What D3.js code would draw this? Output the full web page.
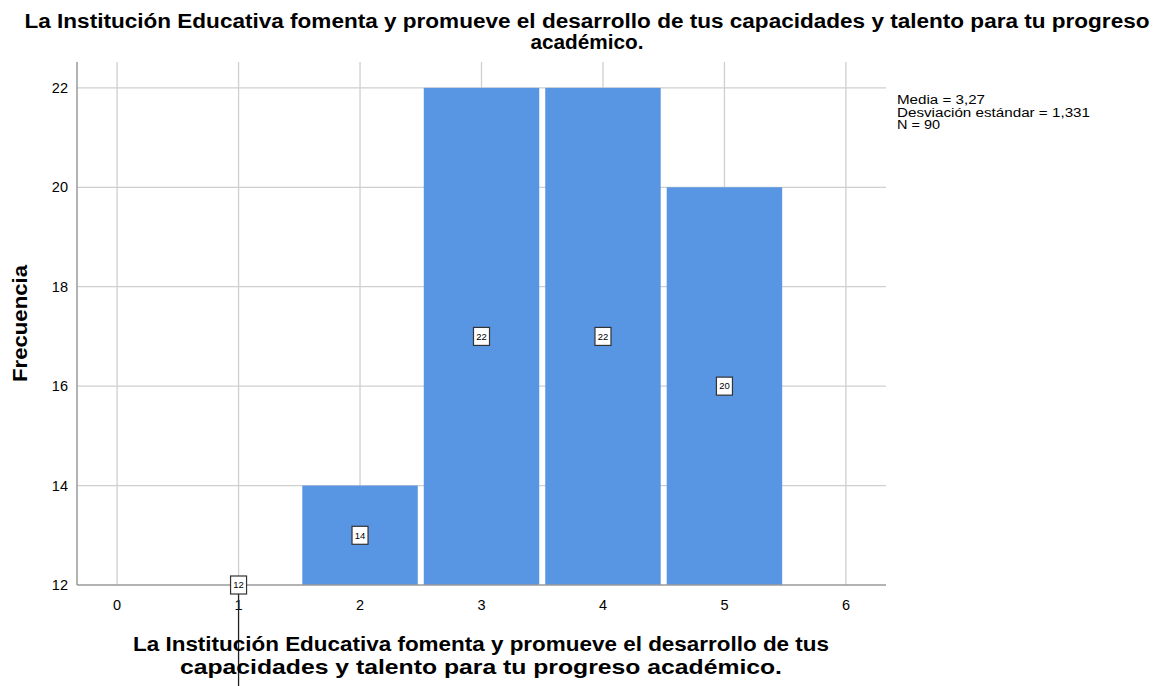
<!DOCTYPE html>
<html lang="es">
<head>
<meta charset="utf-8">
<script src="https://d3js.org/d3.v7.min.js"></script>
<style>
  body { margin: 0; background: #fff; }
  text { font-family: "Liberation Sans", Arial, sans-serif; fill: #000; }
</style>
</head>
<body>
<div id="chart"></div>
<script>
// valores de la escala (1-5) y frecuencias
var categories = [1, 2, 3, 4, 5];
var counts = [12, 14, 22, 22, 20];
var xTicks = [0, 1, 2, 3, 4, 5, 6];
var yTicks = [12, 14, 16, 18, 20, 22];
var titleLines = ["La Institución Educativa fomenta y promueve el desarrollo de tus capacidades y talento para tu progreso", "académico."];
var xTitleLines = ["La Institución Educativa fomenta y promueve el desarrollo de tus", "capacidades y talento para tu progreso académico."];
var statsLines = ["Media = 3,27", "Desviación estándar = 1,331", "N = 90"];

var W = 1160, H = 686;
var margin = {top: 62, right: 274, bottom: 101, left: 77};
var width = W - margin.left - margin.right,
    height = H - margin.top - margin.bottom;

var svg = d3.select("#chart").append("svg")
    .attr("width", W).attr("height", H);

var g = svg.append("g")
    .attr("transform", "translate(" + margin.left + "," + margin.top + ")");

var x = d3.scaleLinear().domain([-0.33, 6.33]).range([0, width]);
var y = d3.scaleLinear().domain([12, 22.52]).range([height, 0]);

// the reference text is a bit wider than the font, so stretch it
function fit(sel, widths) {
    sel.attr("textLength", (d, i) => widths[i]).attr("lengthAdjust", "spacingAndGlyphs");
}

// grid
g.selectAll(".vgrid").data(xTicks).enter().append("line")
    .attr("x1", d => x(d)).attr("x2", d => x(d))
    .attr("y1", 0).attr("y2", height)
    .attr("stroke", "#cfcfcf").attr("stroke-width", 1.3);
g.selectAll(".hgrid").data(yTicks.slice(1)).enter().append("line")
    .attr("x1", 0).attr("x2", width)
    .attr("y1", d => y(d)).attr("y2", d => y(d))
    .attr("stroke", "#cfcfcf").attr("stroke-width", 1.3);

// bars
g.selectAll(".bar").data(categories).enter().append("rect")
    .attr("x", (d) => x(d - 0.5) + 3)
    .attr("width", (d) => x(d + 0.5) - x(d - 0.5) - 6)
    .attr("y", (d, i) => y(counts[i]))
    .attr("height", (d, i) => height - y(counts[i]))
    .attr("fill", "#5895e3");

// axes lines
g.append("line").attr("x1", 0).attr("x2", 0).attr("y1", 0).attr("y2", height)
    .attr("stroke", "#9a9a9a").attr("stroke-width", 1.5);
g.append("line").attr("x1", 0).attr("x2", width).attr("y1", height).attr("y2", height)
    .attr("stroke", "#9a9a9a").attr("stroke-width", 1.5);

// tick labels
g.selectAll(".ylab").data(yTicks).enter().append("text")
    .attr("x", -9).attr("y", d => y(d)).attr("dy", "0.35em")
    .attr("text-anchor", "end").style("font-size", "14.5px").text(d => d);
g.selectAll(".xlab").data(xTicks).enter().append("text")
    .attr("x", d => x(d)).attr("y", height + 25)
    .attr("text-anchor", "middle").style("font-size", "14.5px").text(d => d);

// leader line for first label
g.append("line")
    .attr("x1", x(categories[0])).attr("x2", x(categories[0]))
    .attr("y1", y((12 + counts[0]) / 2)).attr("y2", H - margin.top)
    .attr("stroke", "#222").attr("stroke-width", 1.3);

// value labels
var lab = g.selectAll(".vlab").data(categories).enter().append("g")
    .attr("transform", (d, i) => "translate(" + x(d) + "," + y((12 + counts[i]) / 2) + ")");
lab.append("rect").attr("x", -8).attr("y", -9).attr("width", 16).attr("height", 18)
    .attr("fill", "#fff").attr("stroke", "#333").attr("stroke-width", 1.2);
lab.append("text").attr("text-anchor", "middle").attr("dy", "0.35em")
    .style("font-size", "9.5px").text((d, i) => counts[i]);

// title
svg.selectAll(".title").data(titleLines).enter().append("text")
    .attr("x", 587).attr("y", (d, i) => 28 + i * 21)
    .attr("text-anchor", "middle").style("font-size", "20px").style("font-weight", "bold")
    .text(d => d)
    .call(fit, [1125, 113]);

// x title
svg.selectAll(".xtitle").data(xTitleLines).enter().append("text")
    .attr("x", 481).attr("y", (d, i) => 651 + i * 23)
    .attr("text-anchor", "middle").style("font-size", "20.5px").style("font-weight", "bold")
    .text(d => d)
    .call(fit, [696, 602]);

// y title
svg.append("text")
    .attr("transform", "translate(27," + (margin.top + height / 2) + ") rotate(-90)")
    .attr("text-anchor", "middle").style("font-size", "20px").style("font-weight", "bold")
    .text("Frecuencia")
    .call(fit, [117]);

// stats
svg.selectAll(".stats").data(statsLines).enter().append("text")
    .attr("x", 897).attr("y", (d, i) => 104 + i * 12.5)
    .style("font-size", "12.5px").text(d => d)
    .call(fit, [88, 193, 43]);
</script>
</body>
</html>
